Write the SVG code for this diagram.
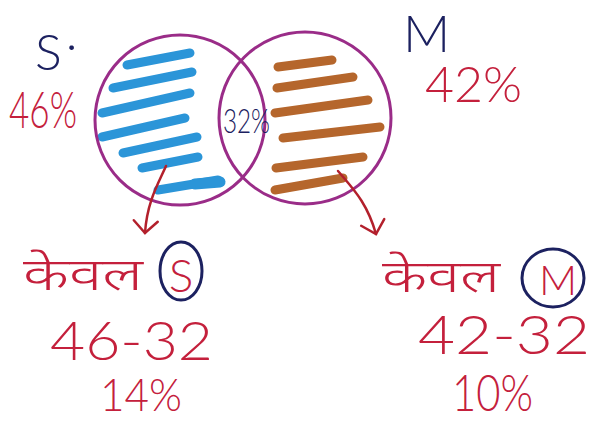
<svg xmlns="http://www.w3.org/2000/svg" width="594" height="421" viewBox="0 0 594 421">
<style>
.set{fill:none;stroke:#9a2c88;stroke-width:3}
.blue{stroke:#2b95d8;stroke-width:9;stroke-linecap:round;fill:none}
.brown{stroke:#b5662c;stroke-width:9;stroke-linecap:round;fill:none}
.navy{fill:#1c2160;font-family:Lato,"Liberation Sans",sans-serif;font-weight:300}
.red{fill:#c4203c;font-family:Lato,"Liberation Sans",sans-serif;font-weight:300}
.hin{fill:#c4203c;font-family:"Noto Sans Devanagari","Noto Sans","Liberation Sans",sans-serif;font-weight:300}
.ring{fill:none;stroke:#1c2160;stroke-width:3}
.arrow{fill:none;stroke:#b3202c;stroke-width:2.5;stroke-linecap:round;marker-end:url(#head)}
</style>
<defs>
<marker id="head" markerUnits="userSpaceOnUse" markerWidth="30" markerHeight="30" viewBox="-15 -15 30 30" refX="0" refY="0" orient="auto">
<path d="M-12,-12 Q-3,-3 0,0 Q-3,3 -12,12" fill="none" stroke="#b3202c" stroke-width="2.5" stroke-linecap="round"/>
</marker>
</defs>
<rect width="594" height="421" fill="#ffffff"/>
<g id="set-S">
<path class="blue" d="M127,65 L190,53 M113,88 L192,72 M102,113 L190,93 M102,137 L185,118 M123,153 L197,137 M142,168 L198,157 M158,190 L218,180"/>
<path d="M195,184 L220,182" stroke="#2b95d8" stroke-width="11" stroke-linecap="round"/>
<circle class="set" cx="180" cy="120" r="85"/>
<text class="navy" x="35" y="70" font-size="50" font-weight="400">S<tspan dx="4" dy="-20">.</tspan></text>
<text class="red" x="9" y="128" font-size="52" textLength="68" lengthAdjust="spacingAndGlyphs">46%</text>
</g>
<g id="set-M">
<path class="brown" d="M278,67 L332,60 M277,88 L353,77 M275,113 L368,100 M283,138 L380,127 M276,168 L363,157 M275,190 L343,178"/>
<circle class="set" cx="305" cy="118" r="86"/>
<text class="navy" x="403" y="52" font-size="52" font-weight="400">M</text>
<text class="red" x="425" y="102" font-size="50" textLength="97" lengthAdjust="spacingAndGlyphs">42%</text>
</g>
<g id="intersection">
<text class="navy" x="223" y="133" font-size="34" font-weight="400" textLength="47" lengthAdjust="spacingAndGlyphs">32%</text>
</g>
<g id="connectors">
<path class="arrow" d="M166,166 C158,184 147,202 145,233"/>
<path class="arrow" d="M338,171 L344,178 C356,192 368,206 376,234"/>
</g>
<g id="only-S">
<text class="hin" x="23" y="290" font-size="44" textLength="120" lengthAdjust="spacingAndGlyphs">केवल</text>
<ellipse class="ring" cx="181" cy="271" rx="21" ry="29"/>
<text class="red" x="181" y="292" font-size="46" text-anchor="middle">S</text>
<text class="red" x="50" y="360" font-size="54" textLength="163" lengthAdjust="spacingAndGlyphs">46-32</text>
<text class="red" x="100" y="411" font-size="46" textLength="82" lengthAdjust="spacingAndGlyphs">14%</text>
</g>
<g id="only-M">
<text class="hin" x="382" y="292" font-size="44" textLength="118" lengthAdjust="spacingAndGlyphs">केवल</text>
<ellipse class="ring" cx="553" cy="278" rx="31" ry="29"/>
<text class="red" x="558" y="295" font-size="42" text-anchor="middle">M</text>
<text class="red" x="418" y="354" font-size="54" textLength="172" lengthAdjust="spacingAndGlyphs">42-32</text>
<text class="red" x="452" y="411" font-size="52" textLength="81" lengthAdjust="spacingAndGlyphs">10%</text>
</g>
</svg>
